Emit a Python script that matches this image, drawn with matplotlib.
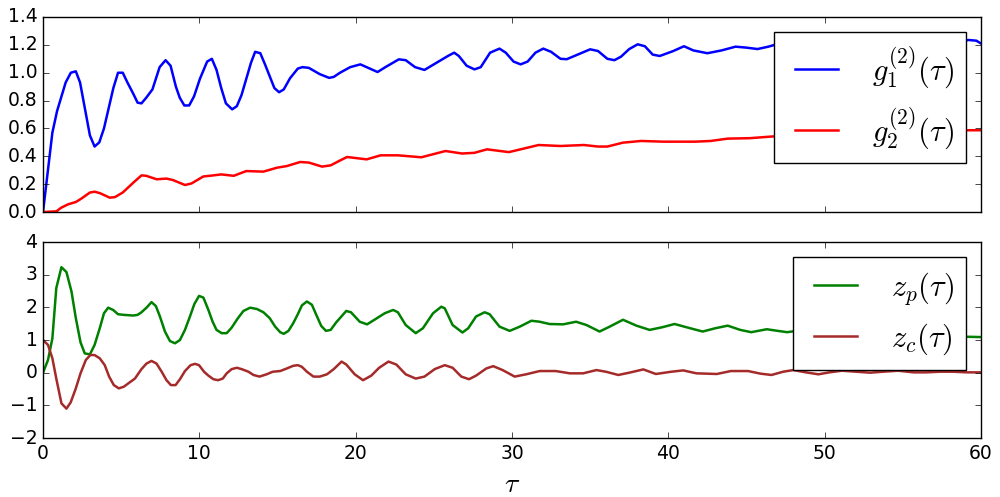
import matplotlib
matplotlib.use('Agg')
import matplotlib.pyplot as plt

# -----------------------------
# Data
# -----------------------------
tau_g1 = [0, 0.6, 0.9, 1.45, 1.78, 2.1, 2.37, 3.0, 3.3, 3.6, 3.9, 4.5, 4.8, 5.1, 5.4, 5.77,
          6.05, 6.3, 6.6, 7.0, 7.46, 7.84, 8.16, 8.5, 8.75, 9.04, 9.35, 9.66, 10.04, 10.5,
          10.8, 11.1, 11.4, 11.7, 12.1, 12.4, 12.7, 13.3, 13.57, 13.9, 14.2, 14.8, 15.1,
          15.4, 15.8, 16.3, 16.6, 17.0, 17.7, 18.3, 18.6, 19.0, 19.65, 20.3, 20.7, 21.4,
          21.9, 22.76, 23.2, 23.8, 24.4, 25.0, 25.9, 26.3, 26.6, 27.1, 27.6, 28.0, 28.6,
          29.2, 29.6, 30.1, 30.55, 31.0, 31.5, 32.0, 32.5, 33.1, 33.5, 34.2, 35.0, 35.5,
          36.1, 36.55, 36.97, 37.5, 38.04, 38.5, 39.0, 39.45, 40.3, 41.0, 41.6, 42.5, 43.4,
          44.3, 45.0, 45.7, 46.4, 47.1, 48.0, 49.0, 50.0, 51.0, 52.0, 53.0, 54.0, 55.0,
          56.0, 57.0, 58.0, 59.2, 59.7, 60.0]
g1 = [0, 0.57, 0.725, 0.93, 1.0, 1.01, 0.93, 0.55, 0.47, 0.5, 0.6, 0.89, 1.0, 1.0, 0.93, 0.85,
      0.785, 0.78, 0.82, 0.88, 1.04, 1.09, 1.05, 0.9, 0.82, 0.765, 0.765, 0.83, 0.957, 1.08,
      1.10, 1.02, 0.89, 0.78, 0.737, 0.76, 0.84, 1.07, 1.15, 1.14, 1.06, 0.89, 0.86,
      0.88, 0.96, 1.03, 1.04, 1.035, 0.99, 0.963, 0.97, 1.0, 1.04, 1.06, 1.04, 1.005,
      1.04, 1.096, 1.09, 1.04, 1.02, 1.06, 1.12, 1.144, 1.12, 1.05, 1.024, 1.04, 1.144,
      1.173, 1.144, 1.08, 1.06, 1.08, 1.144, 1.173, 1.15, 1.10, 1.097, 1.13, 1.168, 1.156,
      1.10, 1.09, 1.115, 1.17, 1.204, 1.19, 1.13, 1.12, 1.155, 1.19, 1.16, 1.14, 1.16,
      1.187, 1.18, 1.17, 1.187, 1.21, 1.20, 1.19, 1.21, 1.20, 1.19, 1.21, 1.22, 1.20,
      1.21, 1.22, 1.21, 1.235, 1.23, 1.21]

tau_g2 = [0, 0.86, 1.15, 1.6, 2.1, 2.45, 3.0, 3.3, 3.65, 4.27, 4.6, 5.1, 5.77, 6.3, 6.6, 7.27,
          7.9, 8.3, 9.08, 9.5, 10.25, 10.9, 11.4, 12.2, 13.0, 14.1, 14.96, 15.6, 16.45, 17.0,
          17.85, 18.4, 19.0, 19.45, 20.7, 21.6, 22.7, 24.2, 25.75, 26.8, 27.6, 28.4, 29.8,
          30.55, 31.7, 33.1, 34.6, 35.5, 36.1, 37.1, 38.25, 39.7, 41.7, 42.7, 43.8, 45.2,
          47.1, 49.0, 51.0, 53.0, 55.0, 57.0, 59.2, 60.0]
g2 = [0, 0.005, 0.03, 0.055, 0.072, 0.096, 0.14, 0.146, 0.135, 0.103, 0.107, 0.14, 0.21, 0.263,
      0.26, 0.235, 0.24, 0.23, 0.194, 0.205, 0.255, 0.263, 0.27, 0.26, 0.294, 0.29, 0.318,
      0.33, 0.359, 0.355, 0.326, 0.335, 0.37, 0.395, 0.378, 0.407, 0.407, 0.393, 0.438,
      0.42, 0.425, 0.45, 0.43, 0.45, 0.481, 0.474, 0.481, 0.47, 0.47, 0.498, 0.51, 0.505,
      0.505, 0.51, 0.527, 0.53, 0.546, 0.55, 0.56, 0.565, 0.57, 0.575, 0.587, 0.587]

tau_zp = [0, 0.32, 0.6, 0.85, 1.18, 1.5, 1.82, 2.1, 2.4, 2.67, 3.0, 3.3, 3.63, 3.9, 4.17, 4.49,
          4.8, 5.17, 5.77, 6.05, 6.3, 6.62, 6.94, 7.22, 7.48, 7.8, 8.12, 8.44, 8.76, 9.08,
          9.4, 9.68, 9.98, 10.26, 10.58, 10.85, 11.1, 11.43, 11.75, 12.07, 12.44, 12.82,
          13.25, 13.68, 14.1, 14.5, 14.85, 15.17, 15.4, 15.7, 16.0, 16.3, 16.56, 16.88,
          17.2, 17.5, 17.8, 18.1, 18.4, 18.77, 19.4, 19.7, 20.26, 20.73, 21.2, 21.86,
          22.4, 22.7, 23.2, 23.84, 24.3, 24.95, 25.48, 25.7, 26.2, 26.83, 27.2, 27.7,
          28.25, 28.57, 29.2, 29.85, 30.5, 31.24, 31.77, 32.4, 33.27, 34.1, 34.76, 35.6,
          36.25, 37.1, 37.96, 38.8, 39.6, 40.4, 41.4, 42.2, 43.0, 43.8, 44.6, 45.3, 46.3,
          47.0, 47.6, 48.5, 49.5, 50.5, 51.5, 52.5, 53.5, 54.5, 55.5, 56.5, 57.5, 58.5,
          59.1, 60.0]
zp = [0.0, 0.39, 1.05, 2.59, 3.23, 3.08, 2.49, 1.67, 0.93, 0.59, 0.56, 0.85, 1.36, 1.82, 1.99,
      1.92, 1.79, 1.77, 1.75, 1.77, 1.85, 1.99, 2.16, 2.04, 1.72, 1.26, 0.97, 0.9, 1.0, 1.31,
      1.72, 2.1, 2.35, 2.30, 1.92, 1.56, 1.31, 1.21, 1.21, 1.38, 1.65, 1.89, 1.99, 1.95,
      1.85, 1.67, 1.41, 1.24, 1.19, 1.28, 1.51, 1.79, 2.06, 2.18, 2.08, 1.75, 1.43, 1.28,
      1.31, 1.55, 1.89, 1.85, 1.56, 1.48, 1.62, 1.82, 1.92, 1.85, 1.46, 1.21, 1.36, 1.82,
      2.02, 1.97, 1.46, 1.23, 1.36, 1.72, 1.85, 1.79, 1.41, 1.28, 1.41, 1.59, 1.56, 1.49,
      1.48, 1.56, 1.46, 1.26, 1.41, 1.62, 1.44, 1.31, 1.39, 1.49, 1.36, 1.26, 1.36, 1.44,
      1.31, 1.24, 1.33, 1.28, 1.24, 1.3, 1.22, 1.2, 1.25, 1.2, 1.15, 1.2, 1.17, 1.12, 1.15,
      1.12, 1.10, 1.09]

tau_zc = [0, 0.32, 0.6, 0.85, 1.18, 1.5, 1.77, 2.1, 2.4, 2.74, 3.03, 3.3, 3.63, 3.95, 4.23,
          4.53, 4.85, 5.17, 5.45, 5.88, 6.3, 6.62, 6.94, 7.26, 7.59, 7.9, 8.18, 8.48, 8.76,
          9.08, 9.44, 9.72, 9.98, 10.3, 10.58, 10.9, 11.2, 11.5, 11.75, 12.07, 12.4, 12.7,
          13.14, 13.46, 13.85, 14.3, 14.7, 15.17, 15.6, 16.0, 16.3, 16.56, 16.88, 17.3,
          17.7, 18.16, 18.6, 19.1, 19.4, 19.94, 20.47, 21.0, 21.5, 22.1, 22.6, 23.2, 23.84,
          24.4, 25.06, 25.7, 26.2, 26.76, 27.25, 27.7, 28.36, 28.8, 29.4, 30.17, 30.9,
          31.77, 32.8, 33.7, 34.55, 35.4, 36.0, 36.8, 37.5, 38.4, 39.2, 40.2, 40.95, 41.8,
          43.1, 44.0, 45.1, 45.9, 46.6, 47.35, 48.0, 48.8, 49.6, 50.3, 51.1, 52.0, 52.9,
          53.75, 54.7, 55.7, 56.5, 57.4, 58.2, 59.1, 60.0]
zc = [1.0, 0.85, 0.44, -0.18, -0.94, -1.10, -0.91, -0.48, -0.02, 0.39, 0.54, 0.54, 0.44, 0.23,
      -0.12, -0.38, -0.48, -0.43, -0.33, -0.18, 0.11, 0.28, 0.36, 0.28, 0.03, -0.23, -0.38,
      -0.38, -0.20, 0.05, 0.23, 0.27, 0.23, 0.03, -0.09, -0.20, -0.23, -0.18, -0.02, 0.11,
      0.15, 0.11, 0.03, -0.07, -0.12, -0.05, 0.03, 0.05, 0.13, 0.21, 0.23, 0.18, 0.03,
      -0.12, -0.12, -0.05, 0.11, 0.34, 0.25, -0.05, -0.23, -0.09, 0.15, 0.34, 0.25, -0.05,
      -0.18, -0.12, 0.11, 0.23, 0.15, -0.12, -0.20, -0.09, 0.13, 0.20, 0.08, -0.12, -0.05,
      0.05, 0.05, -0.02, -0.02, 0.08, 0.03, -0.07, 0.0, 0.10, -0.04, 0.03, 0.07, -0.02,
      -0.04, 0.05, 0.05, -0.03, -0.07, 0.03, 0.08, 0.01, -0.05, 0.01, 0.06, 0.03, 0.0,
      0.03, 0.06, 0.01, 0.01, 0.03, 0.03, 0.01, 0.01]

labels_top = [r'$g_1^{(2)}(\tau)$', r'$g_2^{(2)}(\tau)$']
labels_bottom = [r'$z_p(\tau)$', r'$z_c(\tau)$']

# -----------------------------
# Plot
# -----------------------------
plt.style.use('classic')
fig = plt.figure(figsize=(10, 4.97), dpi=100, facecolor='white')

ax1 = fig.add_axes([0.043, 0.5734, 0.938, 0.3924])
ax1.plot(tau_g1, g1, color='b', lw=1.8, label=labels_top[0])
ax1.plot(tau_g2, g2, color='r', lw=1.8, label=labels_top[1])
ax1.set_xlim(0, 60)
ax1.set_ylim(0, 1.4)
ax1.set_yticks([0.0, 0.2, 0.4, 0.6, 0.8, 1.0, 1.2, 1.4])
ax1.tick_params(labelbottom=False, labelsize=13.5)
ax1.legend(loc='upper right', fontsize=22)

ax2 = fig.add_axes([0.043, 0.1187, 0.938, 0.3943], sharex=ax1)
ax2.plot(tau_zp, zp, color='g', lw=1.8, label=labels_bottom[0])
ax2.plot(tau_zc, zc, color='brown', lw=1.8, label=labels_bottom[1])
ax2.set_xlim(0, 60)
ax2.set_ylim(-2, 4)
ax2.set_xticks([0, 10, 20, 30, 40, 50, 60])
ax2.tick_params(labelsize=13.5)
ax2.set_xlabel(r'$\tau$', fontsize=20)
ax2.legend(loc='upper right', fontsize=22)

fig.savefig('out.png', dpi=100, facecolor='white')
